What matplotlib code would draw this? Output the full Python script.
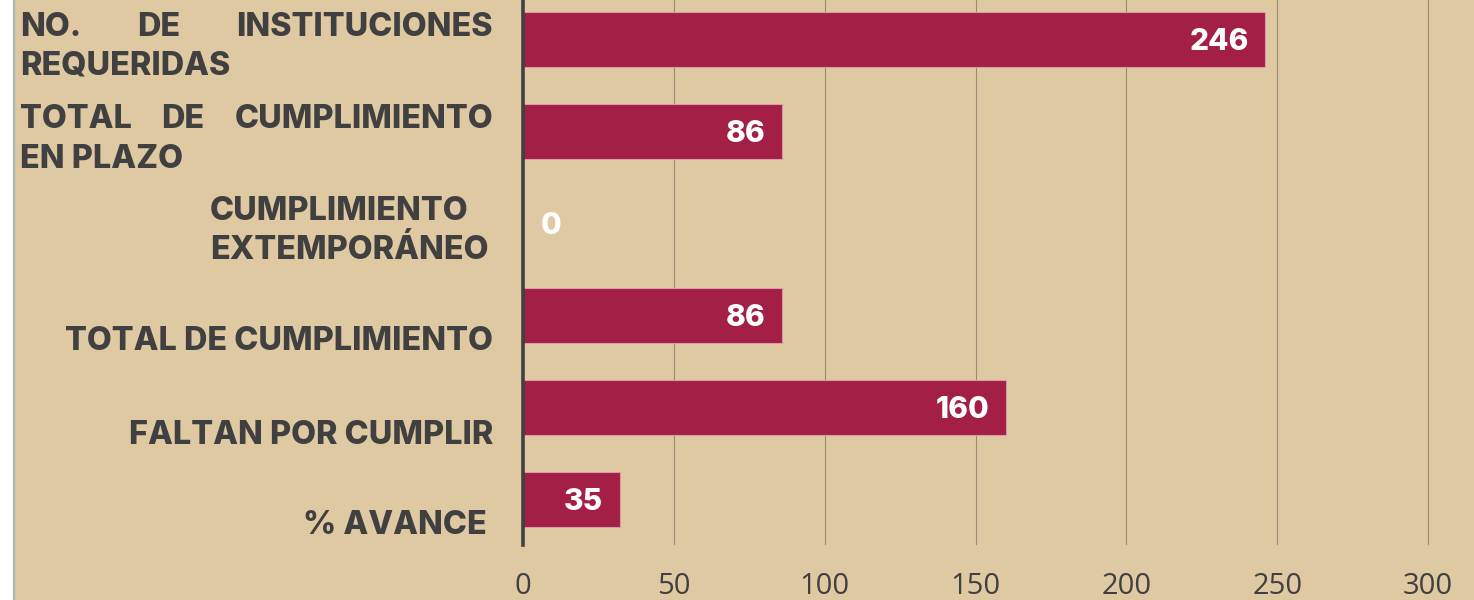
import matplotlib
matplotlib.use("Agg")
import matplotlib.pyplot as plt
from matplotlib.patches import Rectangle
from matplotlib.lines import Line2D

# data
categories = ["NO. DE INSTITUCIONES REQUERIDAS", "TOTAL DE CUMPLIMIENTO EN PLAZO",
              "CUMPLIMIENTO EXTEMPORÁNEO", "TOTAL DE CUMPLIMIENTO",
              "FALTAN POR CUMPLIR", "% AVANCE"]
values = [246, 86, 0, 86, 160, 32]          # bar lengths as drawn
value_labels = ["246", "86", "0", "86", "160", "35"]
xticks = [0, 50, 100, 150, 200, 250, 300]

W, H = 1474, 600
BG = "#DFC9A3"
BAR = "#A31F45"
DARK = "#404040"
LABEL_FONT = "Inter"

fig = plt.figure(figsize=(W / 100, H / 100), dpi=100, facecolor="white")

# beige panel with the grey rule on its left
fig.patches.append(Rectangle((15 / W, 0), 1, 1, transform=fig.transFigure,
                             facecolor=BG, edgecolor="none", zorder=-10))
fig.lines.append(Line2D([13.5 / W, 13.5 / W], [0, 1], transform=fig.transFigure,
                        color="#B0B4BC", lw=1.6, zorder=-5))

ax = fig.add_axes([523 / W, 55 / H, 1 - 523 / W, 545 / H])
ax.set_zorder(2)
ax.set_facecolor("none")
ax.set_xlim(0, 315.2)
ax.set_ylim(5.495, -0.429)

ypos = list(range(len(values)))
ax.barh(ypos, values, height=0.6, color=BAR, edgecolor="#D99AA8", linewidth=0.8, zorder=3)

for y, v, lab in zip(ypos, values, value_labels):
    if v > 0:
        ax.annotate(lab, (v, y), xytext=(-12, -2), textcoords="offset points",
                    ha="right", va="center", color="white", fontsize=21.5,
                    fontweight="heavy", family=LABEL_FONT, zorder=4)
    else:
        ax.annotate(lab, (v, y), xytext=(13, -2), textcoords="offset points",
                    ha="left", va="center", color="white", fontsize=21.5,
                    fontweight="heavy", family=LABEL_FONT, zorder=4)

ax.set_xticks(xticks)
ax.set_yticks([])
ax.grid(axis="x", color="#978B73", lw=0.8, zorder=1)
ax.tick_params(axis="x", length=0, pad=19.5, labelsize=21, labelcolor=DARK)
for t in ax.get_xticklabels():
    t.set_family("Open Sans")
for s in ["top", "right", "bottom"]:
    ax.spines[s].set_visible(False)
ax.spines["left"].set_color(DARK)
ax.spines["left"].set_linewidth(2.6)
ax.spines["left"].set_zorder(5)

# category labels, placed in pixel coordinates
lab_kw = dict(fontsize=23.3, fontweight="heavy", color=DARK, family=LABEL_FONT, va="center")


def px(x, y):
    return x / W, 1 - (y + 4) / H


renderer = fig.canvas.get_renderer()


def justified(text, x0, x1, y):
    words = text.split()
    objs = [fig.text(*px(x0, y), w, ha="left", **lab_kw) for w in words]
    widths = [o.get_window_extent(renderer).width for o in objs]
    gap = (x1 - x0 - sum(widths)) / (len(words) - 1)
    x = x0
    for o, w in zip(objs, widths):
        o.set_position(px(x, y))
        x += w + gap


justified("NO. DE INSTITUCIONES", 20, 493, 24)
fig.text(*px(20, 62), "REQUERIDAS", ha="left", **lab_kw)
justified("TOTAL DE CUMPLIMIENTO", 20, 493, 116)
fig.text(*px(20, 155), "EN PLAZO", ha="left", **lab_kw)
fig.text(*px(210, 208), "CUMPLIMIENTO", ha="left", **lab_kw)
fig.text(*px(210, 246), "EXTEMPORÁNEO", ha="left", **lab_kw)
fig.text(*px(493, 338), "TOTAL DE CUMPLIMIENTO", ha="right", **lab_kw)
fig.text(*px(493, 432), "FALTAN POR CUMPLIR", ha="right", **lab_kw)
fig.text(*px(487, 522), "% AVANCE", ha="right", **lab_kw)

fig.savefig("out.png", dpi=100, facecolor="white")
